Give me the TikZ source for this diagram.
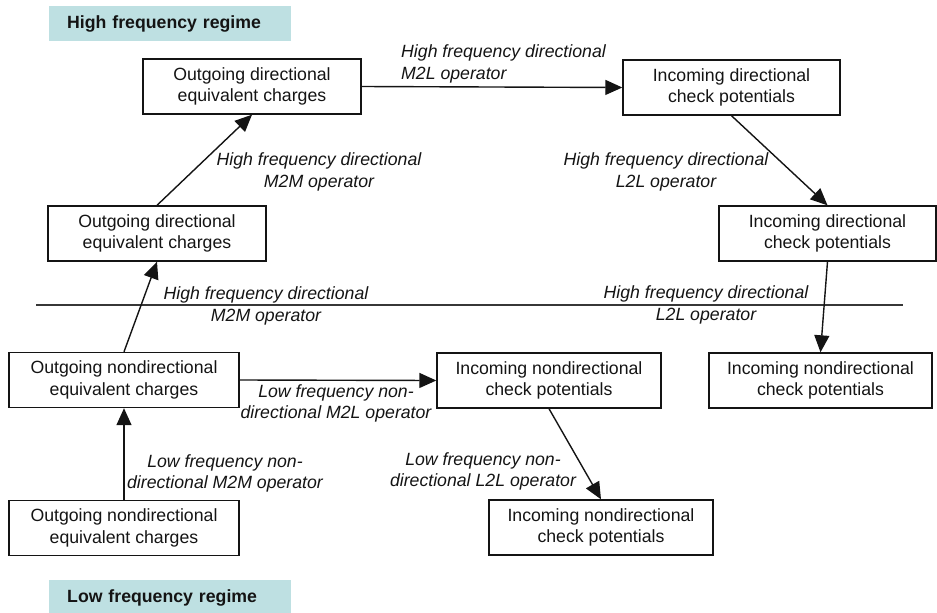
\documentclass[tikz,border=0pt]{standalone}
\usepackage{fontspec}
\setmainfont{Liberation Sans}
\usetikzlibrary{arrows.meta}
\definecolor{regime}{RGB}{190,224,226}
\definecolor{ink}{RGB}{20,20,20}
\begin{document}
\begin{tikzpicture}[x=1pt,y=-1pt,
  box/.style={draw=ink, line width=1.4pt, minimum height=55pt, inner sep=0pt, align=center, text=ink, font=\fontsize{17.7}{21.5}\selectfont},
  lbl/.style={inner sep=0pt, align=center, text=ink, font=\fontsize{17.7}{21.5}\selectfont\itshape},
  arr/.style={draw=ink, line width=1.4pt, -{Triangle[length=17pt,width=15pt]}},
  regimebox/.style={fill=regime, draw=none, anchor=north west, inner xsep=18pt, inner ysep=0pt, text width=206pt, align=left, minimum height=35pt, text=ink, font=\fontsize{17.7}{21.5}\selectfont\bfseries}
]
\useasboundingbox (0,0) rectangle (937,613);

% regime headers
\node[regimebox] (hfr) at (49,6) {High frequency regime};
\node[regimebox, minimum height=36pt] (lfr) at (49,580) {Low frequency regime};

% boxes
\node[box, minimum width=218pt] (A) at (252,86.5) {Outgoing directional\\equivalent charges};
\node[box, minimum width=218pt] (B) at (157,233.5) {Outgoing directional\\equivalent charges};
\node[box, minimum width=217pt] (C) at (731.5,87.5) {Incoming directional\\check potentials};
\node[box, minimum width=217pt] (D) at (827.5,233.5) {Incoming directional\\check potentials};
\node[box, minimum width=230pt] (E) at (124,380) {Outgoing nondirectional\\equivalent charges};
\node[box, minimum width=230pt] (F) at (124,528) {Outgoing nondirectional\\equivalent charges};
\node[box, minimum width=224pt] (G) at (549,380.5) {Incoming nondirectional\\check potentials};
\node[box, minimum width=223pt] (H) at (820.5,380.5) {Incoming nondirectional\\check potentials};
\node[box, minimum width=224pt] (I) at (601,527.5) {Incoming nondirectional\\check potentials};

% separator line
\coordinate (sepL) at (36,305);
\coordinate (sepR) at (903,305);
\draw[draw=ink!85, line width=1.4pt] (sepL) -- (sepR);

% connectors
\draw[arr] (B.north) -- (A.south);
\draw[arr] (E.north) -- (B.south);
\draw[arr] (F.north) -- (E.south);
\draw[arr] (A.east) -- (C.west);
\draw[arr] (C.south) -- (D.north);
\draw[arr] (D.south) -- (H.north);
\draw[arr] (E.east) -- (G.west);
\draw[arr] (G.south) -- (I.north);

% labels
\node[lbl, align=left, anchor=west] (l1) at (401,64) {High frequency directional\\M2L operator};
\node[lbl] (l2) at (319,172) {High frequency directional\\M2M operator};
\node[lbl] (l3) at (666,172) {High frequency directional\\L2L operator};
\node[lbl] (l4) at (266,306) {High frequency directional\\M2M operator};
\node[lbl] (l5) at (706,305) {High frequency directional\\L2L operator};
\node[lbl] (l6) at (336,403.5) {Low frequency non-\\directional M2L operator};
\node[lbl] (l7) at (225,473.5) {Low frequency non-\\directional M2M operator};
\node[lbl] (l8) at (483,471.5) {Low frequency non-\\directional L2L operator};
\end{tikzpicture}
\end{document}
